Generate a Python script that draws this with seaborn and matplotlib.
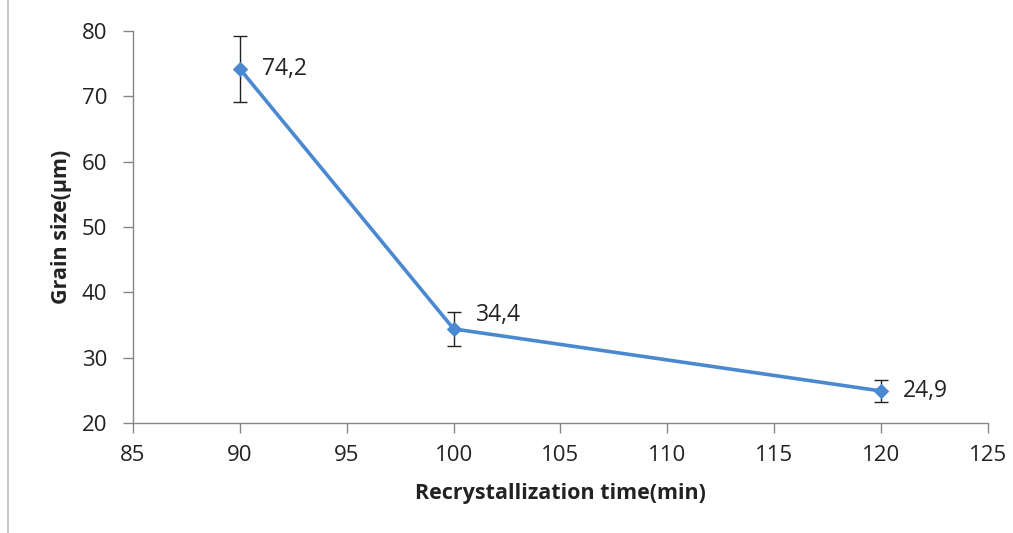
import matplotlib
matplotlib.use("Agg")
import matplotlib.pyplot as plt
import seaborn as sns
import pandas as pd
from matplotlib.lines import Line2D

# Recrystallization time (min) vs mean grain size (µm)
times = [90, 100, 120]
grain_size = [74.2, 34.4, 24.9]
grain_err = [5.0, 2.6, 1.7]
value_labels = ["74,2", "34,4", "24,9"]

x_ticks = [85, 90, 95, 100, 105, 110, 115, 120, 125]
y_ticks = [20, 30, 40, 50, 60, 70, 80]

sns.set_style("white")
plt.rcParams["font.family"] = ["Open Sans", "DejaVu Sans"]

line_color = "#4A88D0"
axis_color = "#868686"
text_color = "#222222"

fig = plt.figure(figsize=(10.13, 5.33), dpi=100)
ax = fig.add_axes([0.1313, 0.2064, 0.8440, 0.7354])

df = pd.DataFrame({"time": times, "size": grain_size})
sns.lineplot(data=df, x="time", y="size", ax=ax, color=line_color,
             linewidth=2.6, marker="D", markersize=7,
             markeredgecolor=line_color, zorder=3)
ax.errorbar(times, grain_size, yerr=grain_err, fmt="none",
            ecolor=text_color, elinewidth=1.0, capsize=5, capthick=1.0, zorder=2)

# value labels sit right of each point; the middle one is nudged up off the line
label_offsets = [(16, 0), (16, 10), (16, 0)]
for t, v, lab, off in zip(times, grain_size, value_labels, label_offsets):
    ax.annotate(lab, (t, v), xytext=off, textcoords="offset points",
                ha="left", va="center", fontsize=16.5, color=text_color)

ax.set_xlim(85, 125)
ax.set_ylim(20, 80)
ax.set_xticks(x_ticks)
ax.set_yticks(y_ticks)
ax.tick_params(axis="both", direction="out", length=7, width=1.0,
               color=axis_color, labelsize=16, labelcolor=text_color,
               bottom=True, left=True)
ax.tick_params(axis="y", pad=11.5)
ax.tick_params(axis="x", pad=9)

for side in ("top", "right"):
    ax.spines[side].set_visible(False)
for side in ("left", "bottom"):
    ax.spines[side].set_color(axis_color)
    ax.spines[side].set_linewidth(1.0)

ax.set_xlabel("Recrystallization time(min)", fontsize=15.5, fontweight="bold",
              color=text_color, labelpad=12)
ax.set_ylabel("Grain size(µm)", fontsize=15.5, fontweight="bold",
              color=text_color, labelpad=7)

# thin frame line along the left edge of the figure
fig.add_artist(Line2D([0.008, 0.008], [0.0, 1.0], transform=fig.transFigure,
                      color="#BBBBBB", linewidth=1.2))

fig.savefig("out.png", dpi=100, facecolor="white")
